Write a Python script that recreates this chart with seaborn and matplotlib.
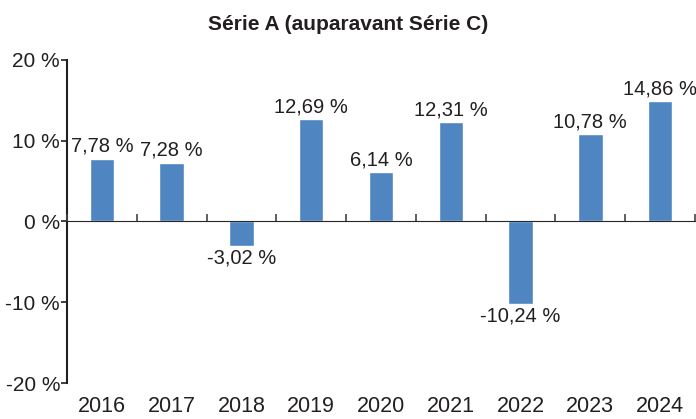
import matplotlib
matplotlib.use("Agg")
import matplotlib.pyplot as plt
import seaborn as sns
import pandas as pd
from matplotlib.ticker import FuncFormatter

years = ["2016", "2017", "2018", "2019", "2020", "2021", "2022", "2023", "2024"]
returns = [7.78, 7.28, -3.02, 12.69, 6.14, 12.31, -10.24, 10.78, 14.86]
title = "Série A (auparavant Série C)"

df = pd.DataFrame({"Année": years, "Rendement": returns})

sns.set_style("white")
plt.rcParams["font.family"] = ["Liberation Sans", "DejaVu Sans"]
txt = "#231f20"

fig = plt.figure(figsize=(6.96, 4.19), dpi=100)
ax = fig.add_axes([0.0963, 0.0859, 0.9023, 0.7711])

sns.barplot(data=df, x="Année", y="Rendement", color="#4f86c2", width=0.35,
            saturation=1, ax=ax)

ax.set_xlim(-0.5, len(years) - 0.5)
ax.set_ylim(-20, 20)
ax.set_yticks([-20, -10, 0, 10, 20])
ax.yaxis.set_major_formatter(FuncFormatter(lambda v, p: f"{int(v)} %"))
ax.set_xlabel("")
ax.set_ylabel("")

for s in ["top", "right", "bottom"]:
    ax.spines[s].set_visible(False)
ax.spines["left"].set_color(txt)
ax.spines["left"].set_linewidth(1.5)

ax.tick_params(axis="y", left=True, length=4, width=1.2, color=txt,
               labelsize=15, labelcolor=txt, pad=1)
ax.tick_params(axis="x", bottom=False, length=0, labelsize=15.5,
               labelcolor=txt, pad=9)

# zero line with ticks between categories
sec = ax.secondary_xaxis(0.5)
sec.set_zorder(5)
sec.set_xticks([i - 0.5 for i in range(len(years) + 1)])
sec.set_xticklabels([])
sec.tick_params(length=5, width=1.2, color="#444444", direction="out")
sec.spines["bottom"].set_color("#555555")
sec.spines["bottom"].set_linewidth(1.5)

labels = [f"{v:.2f} %".replace(".", ",") for v in returns]
ax.bar_label(ax.containers[0], labels=labels, padding=2, fontsize=14.5,
             color=txt)

fig.suptitle(title, x=0.5, y=0.965, fontsize=15, fontweight="bold",
             color=txt)

fig.savefig("out.png", dpi=100)
